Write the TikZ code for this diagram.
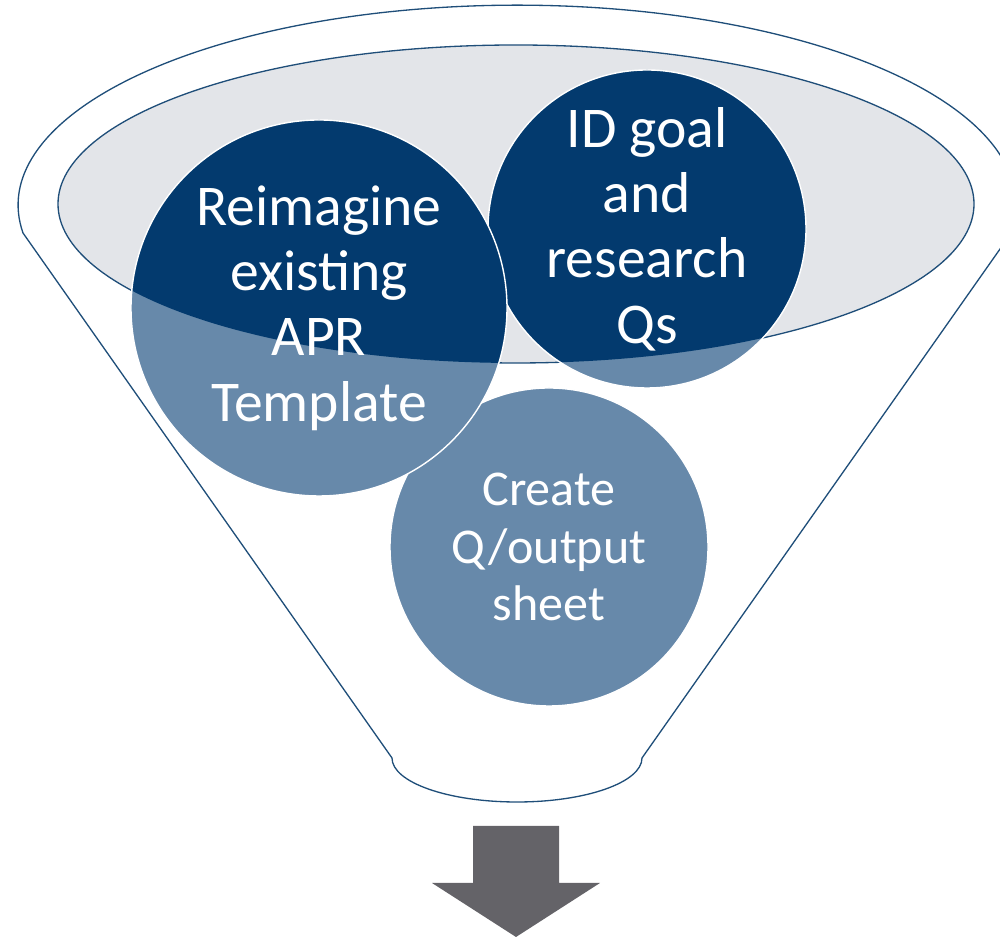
\documentclass[tikz,border=0pt]{standalone}
\usepackage{fontspec}
\setmainfont{Carlito}
\usepackage{tikz}
\usepackage{xcolor}
\definecolor{fnlnavy}{RGB}{3,58,110}
\definecolor{fnlsteel}{RGB}{103,137,170}
\definecolor{fnlgray}{RGB}{227,229,233}
\definecolor{fnlline}{RGB}{31,78,121}
\definecolor{fnlarrow}{RGB}{100,99,104}
\tikzstyle{funnel} = [draw=fnlline, line width=0.75pt]
\tikzstyle{stage} = [circle, inner sep=0pt, text=white, align=center, fill=fnlsteel, draw=white, line width=0.8pt, path picture={\fill[fnlnavy] (rim) ellipse [x radius=9.16cm, y radius=3.18cm];}]
\tikzstyle{bigtext} = [font=\fontsize{32.8}{37.2}\selectfont]
\tikzstyle{smalltext} = [font=\fontsize{28.5}{32.9}\selectfont]

\begin{document}
\begin{tikzpicture}
\useasboundingbox (0,0) rectangle (20,18.74);
% Funnel outline
\draw[funnel] (0.46,14.08) arc[start angle=188, end angle=-8, x radius=9.98, y radius=4] -- (12.84,3.58) arc[start angle=0, end angle=-180, x radius=2.5, y radius=0.88] -- cycle;

% Funnel rim
\coordinate (rim) at (10.32,14.66);
\draw[funnel, fill=fnlgray] (rim) ellipse [x radius=9.16, y radius=3.18];

% Stage circles
\node (create) [stage, smalltext, minimum size=6.36cm] at (10.98,7.8) {Create\\Q/output\\sheet};
\node (goal) [stage, bigtext, minimum size=6.36cm] at (12.94,14.16) {ID goal\\and\\research\\Qs};
\node (reimagine) [stage, bigtext, minimum size=7.52cm] at (6.38,12.58) {Reimagine\\existing\\APR\\Template};

% Outflow arrow
\fill[fnlarrow] (9.46,2.22) -- (11.18,2.22) -- (11.18,1.08) -- (12.0,1.08) -- (10.32,0) -- (8.64,1.08) -- (9.46,1.08) -- cycle;
\end{tikzpicture}
\end{document}
